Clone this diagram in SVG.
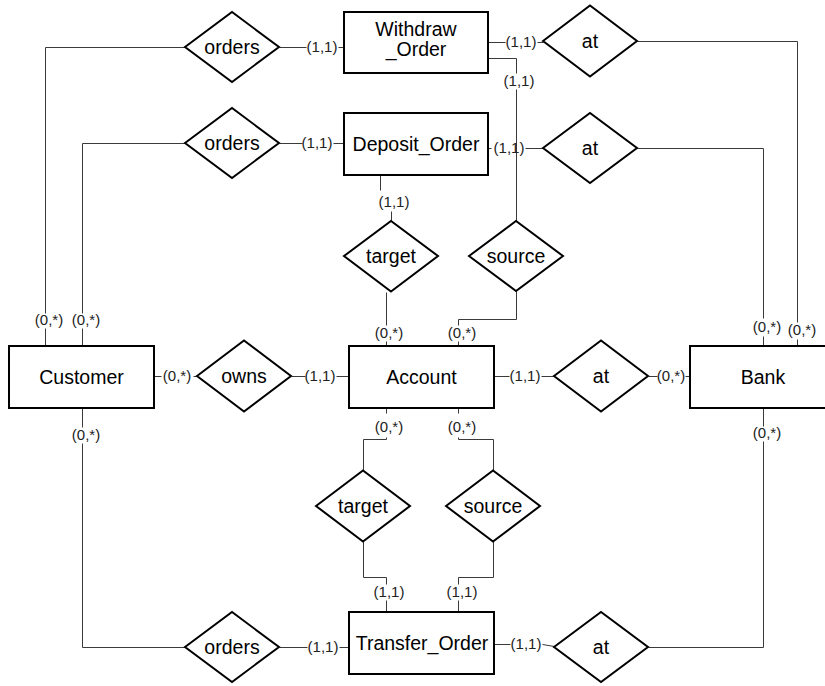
<svg xmlns="http://www.w3.org/2000/svg" width="825" height="686" viewBox="0 0 825 686">
<style>
.ent{fill:#fff;stroke:#000;stroke-width:2}
.rel{fill:#fff;stroke:#000;stroke-width:2;stroke-linejoin:miter}
.nm{font-family:"Liberation Sans",Arial,sans-serif;font-size:19.5px;fill:#000;text-anchor:middle}
.c{fill:none;stroke:#3a3a3a;stroke-width:1}
.lb{font-family:"Liberation Sans",Arial,sans-serif;font-size:15px;fill:#222;text-anchor:middle}
</style>
<rect width="825" height="686" fill="#fff"/>
<g id="connectors">
<g transform="translate(0.5,0.5)">
<path class="c" d="M45,346V328M45,313V47H185"/>
<path class="c" d="M82,346V328M82,313V143H185"/>
<path class="c" d="M279,47H306M338,47H344"/>
<path class="c" d="M279,143H302M333,143H344"/>
<path class="c" d="M488,42H505M537,42H543"/>
<path class="c" d="M488,58H516V73M516,89V221"/>
<path class="c" d="M637,41H797V322M797,339V346"/>
<path class="c" d="M637,148H763V318M763,336V346"/>
<path class="c" d="M488,148H491M525,148H543"/>
<path class="c" d="M380,175V190M391,211V221"/>
<path class="c" d="M386,292V325M386,341V346"/>
<path class="c" d="M516,291V319H458V325M458,341V346"/>
<path class="c" d="M154,376H161M193,376H197"/>
<path class="c" d="M291,376H305M336,376H349"/>
<path class="c" d="M494,376H509M541,376H554"/>
<path class="c" d="M648,376H657M685,376H690"/>
<path class="c" d="M386,408V413M386,437V439H363V471"/>
<path class="c" d="M458,408V413M458,437V439H493V471"/>
<path class="c" d="M363,541V577H386V584M386,600V612"/>
<path class="c" d="M493,541V577H458V584M458,600V612"/>
<path class="c" d="M82,408V427M82,443V647H185"/>
<path class="c" d="M279,647H307M339,647H349"/>
<path class="c" d="M494,644H510M542,644L554,646"/>
<path class="c" d="M763,408V426M763,441V647H648"/>
</g>
<text class="lb" x="49" y="325">(0,*)</text>
<text class="lb" x="86" y="325">(0,*)</text>
<text class="lb" x="322" y="52">(1,1)</text>
<text class="lb" x="317" y="148">(1,1)</text>
<text class="lb" x="521" y="47">(1,1)</text>
<text class="lb" x="519" y="86">(1,1)</text>
<text class="lb" x="802" y="335">(0,*)</text>
<text class="lb" x="767" y="332">(0,*)</text>
<text class="lb" x="509" y="153">(1,1)</text>
<text class="lb" x="394" y="207">(1,1)</text>
<text class="lb" x="389" y="338">(0,*)</text>
<text class="lb" x="462" y="338">(0,*)</text>
<text class="lb" x="177" y="381">(0,*)</text>
<text class="lb" x="320" y="381">(1,1)</text>
<text class="lb" x="525" y="381">(1,1)</text>
<text class="lb" x="671" y="381">(0,*)</text>
<text class="lb" x="389" y="432">(0,*)</text>
<text class="lb" x="462" y="432">(0,*)</text>
<text class="lb" x="389" y="597">(1,1)</text>
<text class="lb" x="462" y="597">(1,1)</text>
<text class="lb" x="86" y="440">(0,*)</text>
<text class="lb" x="323" y="652">(1,1)</text>
<text class="lb" x="526" y="649">(1,1)</text>
<text class="lb" x="767" y="438">(0,*)</text>
</g>
<g id="withdraw_order"><rect class="ent" x="344" y="12" width="144" height="61"/><text class="nm" x="416" y="36">Withdraw</text><text class="nm" x="416" y="56">_Order</text></g>
<g id="deposit_order"><rect class="ent" x="344" y="113" width="144" height="62"/><text class="nm" x="416" y="151">Deposit_Order</text></g>
<g id="customer"><rect class="ent" x="9" y="346" width="145" height="62"/><text class="nm" x="81.5" y="384">Customer</text></g>
<g id="account"><rect class="ent" x="349" y="346" width="145" height="62"/><text class="nm" x="421.5" y="384">Account</text></g>
<g id="bank"><rect class="ent" x="690" y="346" width="146" height="62"/><text class="nm" x="763" y="384">Bank</text></g>
<g id="transfer_order"><rect class="ent" x="349" y="612" width="145" height="62"/><text class="nm" x="422" y="650">Transfer_Order</text></g>
<g id="orders_withdraw"><polygon class="rel" points="185,47 232,12 279,47 232,82"/><text class="nm" x="232" y="54">orders</text></g>
<g id="orders_deposit"><polygon class="rel" points="185,143 232,108 279,143 232,178"/><text class="nm" x="232" y="150">orders</text></g>
<g id="at_withdraw"><polygon class="rel" points="543,41 590,5.5 637,41 590,76.5"/><text class="nm" x="590" y="48">at</text></g>
<g id="at_deposit"><polygon class="rel" points="543,148 590,113 637,148 590,183"/><text class="nm" x="590" y="155">at</text></g>
<g id="target_deposit"><polygon class="rel" points="344,256 391,221 438,256 391,291.5"/><text class="nm" x="391" y="263">target</text></g>
<g id="source_withdraw"><polygon class="rel" points="469,256 516,221 563,256 516,291"/><text class="nm" x="516" y="263">source</text></g>
<g id="owns"><polygon class="rel" points="197,376 244,340.5 291,376 244,411.5"/><text class="nm" x="244" y="383">owns</text></g>
<g id="at_account"><polygon class="rel" points="554,376 601,340.5 648,376 601,411.5"/><text class="nm" x="601" y="383">at</text></g>
<g id="target_transfer"><polygon class="rel" points="316,506 363,470.5 410,506 363,541.5"/><text class="nm" x="363" y="513">target</text></g>
<g id="source_transfer"><polygon class="rel" points="446,506 493,470.5 540,506 493,541.5"/><text class="nm" x="493" y="513">source</text></g>
<g id="orders_transfer"><polygon class="rel" points="185,647 232,612 279,647 232,682"/><text class="nm" x="232" y="654">orders</text></g>
<g id="at_transfer"><polygon class="rel" points="554,647 601,612 648,647 601,682"/><text class="nm" x="601" y="654">at</text></g>
</svg>
